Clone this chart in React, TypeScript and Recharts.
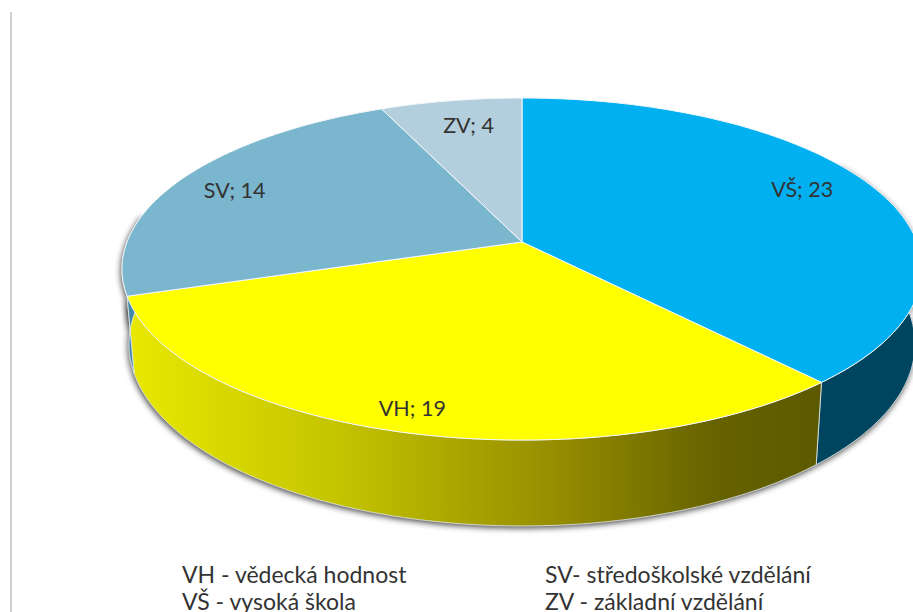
import React from "react";
import { PieChart, Pie } from "recharts";

const categories = ["VŠ", "VH", "SV", "ZV"];
const values = [23, 19, 14, 4];
const legendLeft = ["VH - vědecká hodnost", "VŠ - vysoká škola"];
const legendRight = ["SV- středoškolské vzdělání", "ZV - základní vzdělání"];

const topColors = ["#00b0f0", "#ffff00", "#7ab6cd", "#b3cfdd"];
const wallColors = ["#00455f", "url(#wallYellow)", "#3f86a8", "#8fb0c0"];
const labelRadius = [0.8, 0.9, 0.83, 0.8];
const labelNudge = [[-2, -7], [-3, -2], [-3, 1], [5, -1]];

const data = categories.map((name, i) => ({ name, value: values[i] }));

// perspective of the tilted disc, relative to the pie's radius
const TILT = 0.158;
const STRETCH_X = 2.743;
const STRETCH_Y = 1.158;
// wall = top rim moved down and squeezed, only the front part is visible
const WALL_FROM = 60;
const WALL_TO = 280;

type Pt = [number, number];

// theta: degrees clockwise from 12 o'clock, r: 0..1 of the radius
const project = (cx: number, cy: number, R: number, theta: number, r = 1): Pt => {
  const t = (theta * Math.PI) / 180;
  const X = r * Math.sin(t);
  const Y = -r * Math.cos(t);
  const w = 1 - TILT * Y;
  return [cx + (STRETCH_X * R * X) / w, cy + (STRETCH_Y * R * Y) / w];
};

const projectBottom = (cx: number, cy: number, R: number, theta: number): Pt => {
  const [x, y] = project(cx, cy, R, theta);
  const rimCy = cy + 0.1875 * R;
  return [cx + (x - cx) * 0.9825, rimCy + 0.5208 * R + (y - rimCy) * 1.064];
};

const rim = (from: number, to: number, fn: (theta: number) => Pt): Pt[] => {
  const steps = Math.max(2, Math.ceil(Math.abs(to - from)));
  return Array.from({ length: steps + 1 }, (_, i) => fn(from + ((to - from) * i) / steps));
};

const toPath = (pts: Pt[]) =>
  "M" + pts.map((p) => `${p[0].toFixed(1)} ${p[1].toFixed(1)}`).join("L") + "Z";

const wallPath = (props: any) => {
  const { cx, cy, outerRadius: R, startAngle, endAngle } = props;
  const from = Math.max(90 - startAngle, WALL_FROM);
  const to = Math.min(90 - endAngle, WALL_TO);
  if (from >= to) return null;
  return toPath([
    ...rim(from, to, (t) => project(cx, cy, R, t)),
    ...rim(to, from, (t) => projectBottom(cx, cy, R, t)),
  ]);
};

const ShadowSlice = (props: any) => {
  const d = wallPath(props);
  if (!d) return null;
  return <path d={d} fill="#555" style={{ filter: "drop-shadow(-1px 2px 3px rgba(0,0,0,0.75))" }} />;
};

const WallSlice = (props: any) => {
  const d = wallPath(props);
  if (!d) return null;
  return <path d={d} fill={wallColors[props.index]} stroke="#e8eef0" strokeWidth={0.8} />;
};

const TopSlice = (props: any) => {
  const { cx, cy, outerRadius, startAngle, endAngle, index } = props;
  const top = toPath([
    [cx, cy],
    ...rim(90 - startAngle, 90 - endAngle, (t) => project(cx, cy, outerRadius, t)),
  ]);
  return <path d={top} fill={topColors[index]} stroke="#f4f8fa" strokeWidth={1} strokeLinejoin="round" />;
};

const sliceLabel = (props: any) => {
  const { cx, cy, outerRadius, midAngle, index, name, value } = props;
  const [x, y] = project(cx, cy, outerRadius, 90 - midAngle, labelRadius[index]);
  return (
    <text
      x={x + labelNudge[index][0]}
      y={y + labelNudge[index][1]}
      textAnchor="middle"
      dominantBaseline="central"
      fill="#333"
      fontSize={21.5}
      fontFamily="Lato"
    >
      {`${name}; ${value}`}
    </text>
  );
};

const legendStyle: React.CSSProperties = {
  position: "absolute",
  top: 561,
  fontFamily: "Lato",
  fontSize: 23,
  lineHeight: "27px",
  color: "#333",
  whiteSpace: "nowrap",
};

const pieProps = {
  data,
  dataKey: "value",
  nameKey: "name",
  cx: 522,
  cy: 242,
  outerRadius: 144,
  startAngle: 90,
  endAngle: -270,
  stroke: "none",
  isAnimationActive: false,
};

export default function App() {
  return (
    <div style={{ position: "fixed", left: 0, top: 0, width: 913, height: 612, overflow: "hidden", background: "#fff" }}>
      <div style={{ position: "absolute", left: 10, top: 12, width: 2, height: 600, background: "#d0d0d0" }} />
      <PieChart width={913} height={612} margin={{ top: 0, right: 0, bottom: 0, left: 0 }}>
        <defs>
          <linearGradient id="wallYellow" gradientUnits="userSpaceOnUse" x1={130} y1={0} x2={820} y2={0}>
            <stop offset="0" stopColor="#e8e800" />
            <stop offset="0.3" stopColor="#c4c400" />
            <stop offset="0.6" stopColor="#999000" />
            <stop offset="0.85" stopColor="#666200" />
            <stop offset="1" stopColor="#5c5a00" />
          </linearGradient>
        </defs>
        <Pie {...pieProps} shape={ShadowSlice} />
        <Pie {...pieProps} shape={WallSlice} />
        <Pie {...pieProps} shape={TopSlice} label={sliceLabel} labelLine={false} />
      </PieChart>
      <div style={{ ...legendStyle, left: 182 }}>
        {legendLeft.map((t) => (
          <div key={t}>{t}</div>
        ))}
      </div>
      <div style={{ ...legendStyle, left: 545 }}>
        {legendRight.map((t) => (
          <div key={t}>{t}</div>
        ))}
      </div>
    </div>
  );
}
